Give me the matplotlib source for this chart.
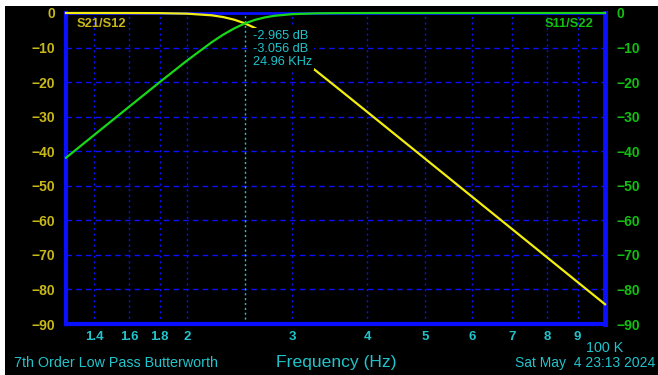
import matplotlib
matplotlib.use("Agg")
import matplotlib.pyplot as plt
from matplotlib.patches import Rectangle
from matplotlib.ticker import FixedLocator, NullLocator

# sweep points (Hz) and measured responses (dB)
freq_hz = [12550, 14000, 16000, 18000, 20000, 22000, 23000, 24000, 24960,
           26000, 27000, 28000, 30000, 33000, 36000, 40000, 45000, 50000,
           60000, 70000, 80000, 90000, 100000]
s21_db = [0.0, 0.0, -0.01, -0.04, -0.19, -0.67, -1.18, -1.95, -2.965,
          -4.36, -5.95, -7.70, -11.41, -16.97, -22.20, -28.58, -35.74, -42.14,
          -53.23, -62.60, -70.72, -77.88, -84.29]
s11_db = [-41.90, -35.25, -27.14, -20.02, -13.76, -8.44, -6.24, -4.43, -3.056,
          -1.98, -1.27, -0.81, -0.33, -0.09, -0.03, -0.01, 0.0, 0.0,
          0.0, 0.0, 0.0, 0.0, 0.0]

marker_hz = 24960
marker_labels = ["-2.965 dB", "-3.056 dB", "24.96 KHz"]

xtick_hz = [14000, 16000, 18000, 20000, 30000, 40000, 50000, 60000, 70000, 80000, 90000]
xtick_labels = ["1.4", "1.6", "1.8", "2", "3", "4", "5", "6", "7", "8", "9"]
ytick_db = list(range(0, -100, -10))

YELLOW = "#f2ee10"
GREEN = "#18d818"
BLUE = "#0a10ff"
CYAN = "#20c4cc"
LEFT_LBL = "#c8b818"
RIGHT_LBL = "#10c010"

plt.rcParams["font.family"] = ["Liberation Sans", "DejaVu Sans"]

W, H = 658, 375
fig = plt.figure(figsize=(W / 100, H / 100), dpi=100)
fig.patch.set_facecolor("white")
fig.patches.append(Rectangle((5 / W, 0), 1 - 5 / W, 1 - 6 / H,
                             transform=fig.transFigure, facecolor="black",
                             edgecolor="none", zorder=-10))

def px(x, y):
    return x / W, 1 - y / H

l, t = px(66, 13)
r, b = px(605, 324)
ax = fig.add_axes([l, b, r - l, t - b])
ax.set_facecolor("black")
ax.set_xscale("log")
ax.set_xlim(12550, 100000)
ax.set_ylim(-90, 0)

# grid
for y in ytick_db[1:-1]:
    ax.axhline(y, color=BLUE, lw=1, ls=(0, (4, 3)), zorder=1)
for x in xtick_hz:
    ax.axvline(x, color=BLUE, lw=1, ls=(0, (1.5, 2.5)), zorder=1)

ax.axvline(marker_hz, color=CYAN, lw=1, ls=(0, (1.5, 2)), zorder=2)

ax.plot(freq_hz, s21_db, color=YELLOW, lw=1.6, zorder=3, clip_on=False)
ax.plot(freq_hz, s11_db, color=GREEN, lw=1.6, zorder=4, clip_on=False)

for side, w in [("left", 3), ("right", 3.5), ("bottom", 3), ("top", 2)]:
    ax.spines[side].set_color(BLUE)
    ax.spines[side].set_linewidth(w)
    ax.spines[side].set_zorder(2.5)

ax.xaxis.set_major_locator(FixedLocator(xtick_hz))
ax.xaxis.set_minor_locator(NullLocator())
ax.set_xticklabels(xtick_labels)
ax.tick_params(axis="x", length=0, pad=5, labelsize=9.5, labelcolor=CYAN)
ax.set_yticks(ytick_db)
ax.tick_params(axis="y", length=0, pad=8, labelsize=10, labelcolor=LEFT_LBL)
for lab in ax.get_xticklabels() + ax.get_yticklabels():
    lab.set_fontweight("bold")

ax2 = ax.twinx()
ax2.set_ylim(-90, 0)
ax2.set_yticks(ytick_db)
ax2.tick_params(axis="y", length=0, pad=8, labelsize=10, labelcolor=RIGHT_LBL)
for lab in ax2.get_yticklabels():
    lab.set_fontweight("bold")
for s in ax2.spines.values():
    s.set_visible(False)

# marker readout with black backing
ax.text(*ax.transAxes.inverted().transform(fig.transFigure.transform(px(253, 30))),
        "\n".join(marker_labels), transform=ax.transAxes,
        color=CYAN, fontsize=9.2, va="top", ha="left", linespacing=1.12,
        bbox=dict(facecolor="black", edgecolor="none", pad=1.5), zorder=5)

fig.text(*px(77, 24), "S21/S12", color=LEFT_LBL, fontsize=9.3,
         fontweight="bold", va="center", ha="left")
fig.text(*px(594, 24), "S11/S22", color=RIGHT_LBL, fontsize=9.3,
         fontweight="bold", va="center", ha="right")

fig.text(*px(14, 363), "7th Order Low Pass Butterworth", color=CYAN,
         fontsize=10.3, va="center", ha="left")
fig.text(*px(336, 362), "Frequency (Hz)", color=CYAN, fontsize=12.6,
         va="center", ha="center")
fig.text(*px(623, 348), "100 K", color=CYAN, fontsize=10.3,
         va="center", ha="right")
fig.text(*px(655, 363), "Sat May  4 23:13 2024", color=CYAN, fontsize=10,
         va="center", ha="right")

fig.savefig("out.png", dpi=100, facecolor=fig.get_facecolor())
